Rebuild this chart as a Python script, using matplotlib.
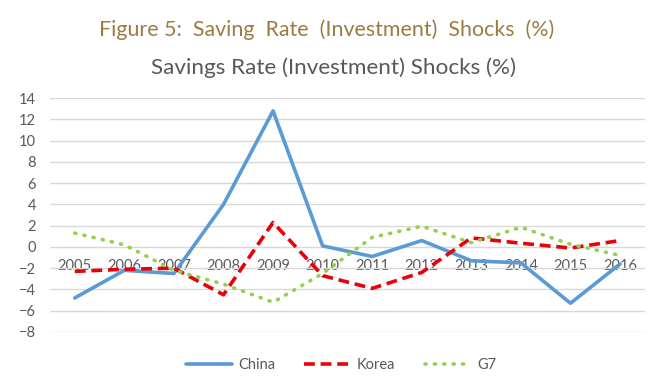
import matplotlib.pyplot as plt
import numpy as np

years = ['2005', '2006', '2007', '2008', '2009', '2010',
         '2011', '2012', '2013', '2014', '2015', '2016']
china = [-4.8, -2.2, -2.5, 4.0, 12.8, 0.1, -0.9, 0.6, -1.3, -1.5, -5.3, -1.6]
korea = [-2.3, -2.1, -2.0, -4.5, 2.3, -2.7, -3.9, -2.4, 0.85, 0.35, -0.1, 0.6]
g7 = [1.3, 0.2, -2.2, -3.5, -5.2, -2.5, 0.9, 1.95, 0.4, 1.85, 0.25, -0.8]

plt.rcParams['font.family'] = ['Lato', 'DejaVu Sans']

fig = plt.figure(figsize=(6.71, 3.91), dpi=100)
ax = fig.add_axes([0.0745, 0.151, 0.8865, 0.598])

x = np.arange(len(years))
ax.plot(x, china, color='#5B9BD5', lw=2.6, label='China', solid_capstyle='round')
ax.plot(x, korea, color='#E8000B', lw=2.6, ls=(0, (3, 1.6)), label='Korea')
ax.plot(x, g7, color='#92D050', lw=2.6, ls=(0, (0.3, 2.3)), dash_capstyle='round',
        label='G7')

ax.set_xlim(-0.5, len(years) - 0.5)
ax.set_ylim(-8, 14)
ax.set_yticks(range(-8, 15, 2))
ax.grid(axis='y', color='#D9D9D9', lw=1)
ax.set_axisbelow(True)
for s in ax.spines.values():
    s.set_visible(False)
ax.spines['bottom'].set_position(('data', 0))
ax.set_xticks(x)
ax.set_xticklabels(years)
ax.tick_params(axis='both', length=0, labelsize=10.5, colors='#595959')
ax.tick_params(axis='x', pad=9)
ax.tick_params(axis='y', pad=10)

fig.text(0.487, 0.925, 'Figure 5:  Saving  Rate  (Investment)  Shocks  (%)',
         ha='center', va='center', fontsize=15.4, color='#9C7B42')
fig.text(0.497, 0.828, 'Savings Rate (Investment) Shocks (%)',
         ha='center', va='center', fontsize=16.2, color='#595959')

fig.legend(loc='center', bbox_to_anchor=(0.508, 0.067), ncol=3, frameon=False,
           fontsize=10.5, labelcolor='#595959', handlelength=3.2,
           columnspacing=2.0, handletextpad=0.4)

fig.savefig('out.png', dpi=100)
